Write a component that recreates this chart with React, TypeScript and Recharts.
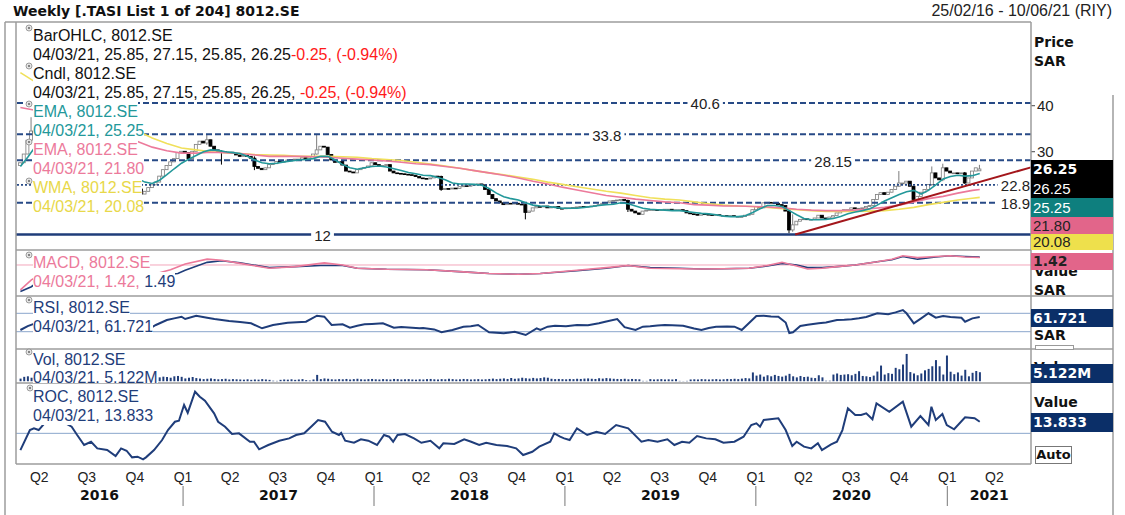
import React from 'react';
import { ComposedChart, Line, Bar, XAxis, YAxis, ReferenceLine } from 'recharts';

// ---------------- data ----------------
const START_DATE = '2016-02-25';
const LAST_DATE = '2021-03-04';
const END_DATE = '2021-06-10';
const LAST_DATE_LABEL = '04/03/21';
const TITLE = 'Weekly [.TASI List 1 of 204] 8012.SE';
const RANGE_LABEL = '25/02/16 - 10/06/21 (RIY)';
const SYMBOL = '8012.SE';

// weekly closes, week 0 = 25/02/16 ... week 262 = 04/03/21
const CLOSES = [
  27.6, 29.5, 32.5, 34.5, 33.6, 34.2, 33.0, 32.4, 33.1, 32.0,
  31.2, 31.8, 30.6, 29.8, 30.2, 28.8, 28.0, 27.2, 27.6, 26.4,
  25.8, 26.2, 25.2, 24.6, 24.9, 23.8, 23.2, 23.5, 22.6, 22.1,
  22.4, 21.6, 21.9, 20.8, 21.4, 22.2, 22.8, 23.4, 24.7, 26.1,
  27.0, 27.8, 28.5, 29.8, 30.1, 29.8, 28.5, 30.1, 31.6, 32.3,
  31.9, 32.6, 31.2, 30.4, 30.1, 30.0, 29.8, 29.9, 29.6, 29.3,
  29.0, 29.2, 29.0, 28.6, 26.8, 26.4, 26.1, 26.5, 27.2, 27.4,
  27.9, 27.7, 27.9, 28.2, 28.3, 28.4, 28.4, 28.7, 28.6, 28.9,
  29.5, 30.4, 31.2, 31.0, 29.4, 28.2, 27.7, 27.9, 27.1, 25.8,
  25.6, 25.4, 26.1, 26.4, 26.6, 26.9, 27.6, 27.2, 26.8, 27.0,
  27.2, 25.8, 25.4, 25.3, 25.2, 25.1, 25.0, 24.9, 24.6, 24.3,
  24.2, 24.1, 24.3, 24.7, 24.6, 21.8, 22.0, 21.9, 22.1, 22.0,
  22.4, 22.6, 22.5, 22.8, 22.9, 23.0, 22.8, 21.8, 20.7, 19.8,
  19.3, 18.9, 18.5, 18.8, 18.7, 18.8, 18.6, 18.5, 16.8, 17.1,
  17.8, 18.1, 18.0, 18.2, 17.8, 18.0, 18.1, 17.7, 17.6, 17.8,
  17.8, 17.9, 18.0, 18.1, 18.0, 18.1, 18.2, 18.3, 18.5, 18.8,
  19.0, 19.3, 19.4, 19.5, 19.6, 19.4, 17.5, 17.1, 16.7, 16.4,
  17.1, 17.3, 17.4, 17.4, 17.3, 17.4, 17.5, 17.5, 17.4, 17.4,
  17.4, 17.2, 16.7, 16.5, 16.4, 16.2, 16.5, 16.4, 16.3, 16.2,
  16.3, 16.1, 16.1, 16.0, 16.1, 15.9, 15.9, 15.9, 16.2, 16.4,
  17.4, 18.1, 17.8, 18.9, 19.0, 18.9, 18.8, 18.5, 18.3, 17.1,
  13.0, 14.1, 14.9, 15.3, 15.4, 15.3, 15.3, 15.6, 16.2, 15.6,
  15.5, 15.8, 16.1, 16.7, 17.2, 17.4, 17.4, 17.8, 17.6, 17.7,
  17.8, 18.1, 18.3, 19.6, 20.7, 21.1, 20.7, 21.2, 21.8, 22.5,
  23.2, 23.2, 23.6, 22.5, 19.6, 20.3, 21.2, 21.8, 22.9, 25.4,
  24.3, 23.9, 26.5, 25.8, 25.4, 25.4, 25.3, 25.4, 23.2, 24.3,
  25.8, 26.5, 26.25,
];
const FIRST_OPEN = 27.0;
const OPEN_OVERRIDES: [number, number][] = [[262, 25.85]];
// [week, high, low] for visible wicks
const WICKS: [number, number, number][] = [
  [3, 37.5, 33.0], [33, 22.0, 20.2], [51, 33.7, 31.5], [55, 30.3, 27.2], [64, 29.0, 26.0],
  [81, 33.7, 29.4], [115, 24.8, 21.5], [138, 18.6, 15.3], [166, 19.6, 16.9], [210, 17.2, 12.3],
  [211, 16.4, 12.6], [240, 25.8, 22.4], [249, 26.8, 22.6], [252, 27.4, 23.6], [258, 25.6, 23.0],
  [262, 27.15, 25.85],
];

const EMA_SHORT: [number, number][] = [
  [0, 26.8], [2, 28.8], [4, 31.0], [6, 32.3], [8, 32.6], [10, 32.2], [12, 31.5], [14, 30.6], [16, 29.6], [18, 28.6],
  [20, 27.6], [22, 26.8], [24, 26.0], [26, 25.3], [28, 24.8], [30, 24.5], [32, 24.2], [34, 23.4], [36, 23.1], [38, 23.8],
  [40, 25.0], [42, 26.3], [44, 27.5], [46, 28.4], [48, 29.2], [50, 30.0], [52, 30.4], [54, 30.3], [56, 30.0], [58, 29.8],
  [60, 29.6], [62, 29.0], [64, 28.2], [66, 27.6], [68, 27.4], [70, 27.5], [72, 27.8], [74, 28.0], [76, 28.2], [78, 28.3],
  [80, 28.5], [82, 29.0], [84, 29.0], [86, 28.2], [88, 27.2], [90, 26.5], [92, 26.2], [94, 26.5], [96, 26.8], [98, 26.9],
  [100, 26.7], [102, 26.3], [104, 25.9], [106, 25.5], [108, 25.2], [110, 24.9], [112, 24.8], [114, 24.4], [116, 23.9], [118, 23.2],
  [120, 23.0], [122, 23.0], [124, 22.9], [126, 22.7], [128, 22.0], [130, 21.0], [132, 20.2], [134, 19.8], [136, 19.5], [138, 18.9],
  [140, 18.4], [142, 18.2], [144, 18.1], [146, 17.9], [148, 17.7], [150, 17.7], [152, 17.7], [154, 17.9], [156, 18.1], [158, 18.3],
  [160, 18.5], [162, 18.6], [164, 18.9], [166, 18.7], [168, 18.2], [170, 17.7], [172, 17.5], [174, 17.4], [176, 17.3], [178, 17.2],
  [180, 17.2], [182, 17.0], [184, 16.8], [186, 16.6], [188, 16.5], [190, 16.3], [192, 16.0], [194, 15.9], [196, 15.9], [198, 16.1],
  [200, 16.8], [202, 17.6], [204, 18.3], [206, 18.3], [208, 18.1], [210, 17.2], [212, 16.3], [214, 15.5], [216, 15.2], [218, 15.2],
  [220, 15.3], [222, 15.5], [224, 15.9], [226, 16.5], [228, 16.9], [230, 17.2], [232, 17.6], [234, 18.4], [236, 19.3], [238, 20.0],
  [240, 20.7], [242, 21.3], [244, 21.6], [246, 20.8], [248, 21.6], [250, 22.8], [252, 24.1], [254, 24.6], [256, 24.9], [258, 24.7],
  [260, 24.8], [262, 25.25],
];
const EMA_LONG: [number, number][] = [
  [0, 39.6], [4, 39.0], [8, 38.0], [12, 37.0], [16, 35.9], [20, 34.9], [24, 33.9], [28, 33.0], [32, 32.2], [36, 31.0],
  [40, 30.2], [44, 29.7], [48, 29.7], [52, 29.9], [56, 29.8], [60, 29.6], [64, 29.3], [68, 29.0], [72, 29.0], [76, 29.0],
  [80, 28.9], [84, 28.8], [88, 28.6], [92, 28.4], [96, 28.2], [100, 28.0], [104, 27.7], [108, 27.4], [112, 27.2], [116, 26.8],
  [120, 26.4], [124, 25.9], [128, 25.4], [132, 24.9], [136, 24.3], [140, 23.6], [144, 23.0], [148, 22.3], [152, 21.7], [156, 21.1],
  [160, 20.5], [164, 20.1], [168, 19.7], [172, 19.4], [176, 19.1], [180, 18.9], [184, 18.5], [188, 18.4], [192, 18.2], [196, 18.2],
  [200, 18.1], [204, 18.0], [208, 17.8], [212, 17.5], [216, 17.3], [220, 17.2], [224, 17.2], [228, 17.3], [232, 17.6], [236, 17.9],
  [240, 18.4], [244, 19.1], [248, 19.8], [252, 20.3], [256, 21.0], [260, 21.6], [262, 21.8],
];
const WMA: [number, number][] = [
  [0, 47.2], [4, 45.2], [8, 43.8], [12, 42.3], [16, 40.8], [20, 39.2], [24, 37.6], [28, 36.0], [32, 34.5], [36, 33.0],
  [40, 31.8], [44, 30.8], [48, 30.4], [52, 30.0], [56, 29.8], [60, 29.6], [64, 29.4], [68, 29.3], [72, 29.2], [76, 29.0],
  [80, 29.0], [84, 29.0], [88, 28.9], [92, 28.8], [96, 28.5], [100, 28.3], [104, 28.1], [108, 27.7], [112, 27.3], [116, 26.9],
  [120, 26.4], [124, 25.9], [128, 25.4], [132, 25.0], [136, 24.5], [140, 24.0], [144, 23.4], [148, 22.9], [152, 22.4], [156, 21.9],
  [160, 21.4], [164, 21.0], [168, 20.5], [172, 20.0], [176, 19.7], [180, 19.5], [184, 19.1], [188, 18.7], [192, 18.4], [196, 18.2],
  [200, 18.1], [204, 17.9], [208, 17.6], [212, 17.4], [216, 17.2], [220, 17.0], [224, 17.0], [228, 17.0], [232, 17.1], [236, 17.2],
  [240, 17.5], [244, 17.9], [248, 18.5], [252, 19.0], [256, 19.5], [260, 19.9], [262, 20.08],
];

const LEVELS = [40.6, 33.8, 28.15, 22.8, 18.9, 12];
const TREND: [number, number][] = [[211.6, 12.0], [276, 26.6]];
const PRICE_TICKS = [30, 40];

const MACD_LINE: [number, number][] = [
  [0, -4.7], [3, -2.8], [8, -0.8], [16, -1.0], [24, -1.9], [32, -2.6], [41, -0.9], [45, 0.2], [51, 1.1], [55, 0.9],
  [60, 0.3], [68, -0.6], [75, -0.3], [83, 0.4], [88, 0.0], [92, -0.6], [100, -0.8], [111, -0.9], [121, -1.3], [128, -1.6],
  [136, -1.75], [142, -1.6], [152, -1.0], [160, -0.5], [166, -0.1], [172, -0.6], [180, -0.7], [186, -0.75], [192, -0.7], [199, -0.6],
  [204, -0.1], [208, 0.5], [212, -0.2], [215, -0.75], [219, -0.6], [223, -0.3], [228, 0.0], [234, 0.6], [238, 1.1], [241, 1.75],
  [245, 1.4], [250, 1.6], [254, 1.75], [258, 1.5], [262, 1.42],
];
const MACD_SIGNAL: [number, number][] = [
  [0, -5.0], [3, -4.1], [8, -1.5], [16, -1.2], [24, -1.8], [32, -2.4], [43, -1.6], [45, -1.0], [51, 0.5], [55, 0.8],
  [60, 0.4], [68, -0.5], [75, -0.3], [82, -0.1], [88, -0.1], [92, -0.6], [100, -0.8], [111, -0.9], [121, -1.3], [128, -1.6],
  [136, -1.75], [142, -1.6], [152, -1.1], [160, -0.6], [166, -0.1], [172, -0.5], [180, -0.6], [186, -0.75], [192, -0.7], [199, -0.6],
  [204, -0.2], [208, 0.3], [212, 0.0], [215, -0.5], [219, -0.5], [223, -0.3], [228, 0.0], [234, 0.6], [238, 1.0], [241, 1.6],
  [245, 1.1], [250, 1.5], [254, 1.75], [258, 1.6], [262, 1.49],
];

const RSI: [number, number][] = [
  [0, 33.7], [2, 42], [4, 48], [6, 50], [8, 52], [10, 46], [12, 44], [14, 42], [16, 38], [18, 40],
  [20, 36], [22, 38], [24, 35], [26, 36], [28, 33], [30, 34], [32, 32], [34, 36], [36, 40], [37, 44.6],
  [40, 55.4], [42, 59], [44, 62.6], [45, 57.6], [48, 64.8], [51, 60.4], [53, 57.6], [57, 53.3], [60, 51], [63, 48.3],
  [66, 37.4], [69, 44.6], [73, 49.6], [78, 51.7], [81, 64.8], [83, 62.6], [85, 44.6], [88, 46], [90, 38.7], [92, 43],
  [94, 46], [96, 47], [99, 48.3], [102, 38.7], [104, 40], [106, 39], [107, 38.5], [109, 37.4], [110, 38], [112, 36],
  [113, 35], [115, 28.7], [118, 33.7], [121, 40.9], [123, 42], [125, 44.6], [128, 28.7], [130, 27.5], [132, 26.5], [135, 30],
  [138, 22.8], [141, 37.4], [142, 33.7], [144, 41], [146, 43], [149, 42], [152, 44.6], [155, 44], [158, 48.3], [160, 52],
  [163, 57.6], [165, 40], [168, 33.7], [170, 41], [172, 42], [174, 43.5], [176, 44.6], [178, 44], [181, 43], [184, 37],
  [186, 33.7], [188, 38], [190, 40.9], [193, 41.5], [195, 40.9], [197, 33.7], [201, 64.1], [203, 64.8], [205, 63], [207, 62.6],
  [209, 50], [210, 27], [211, 28.7], [213, 42.4], [215, 45], [218, 48.3], [220, 50], [223, 55.4], [225, 56], [227, 57],
  [229, 59.1], [231, 62], [234, 70], [237, 67.8], [239, 72], [241, 77], [242, 70], [244, 48.3], [246, 59], [248, 70],
  [250, 60.4], [252, 64], [254, 62], [256, 61], [257, 60.4], [258, 51.7], [260, 59], [262, 61.721],
];

// weekly volume, millions
const VOLUME = [
  1.5, 2.5, 2.8, 2.0,
  1.8, 1.6, 1.4, 1.5, 1.3, 1.2, 1.4, 1.3, 1.1, 1.2, 1.0, 1.1, 1.2, 1.0, 0.9, 1.1, 1.0, 1.2, 1.1, 1.0,
  0.9, 1.0, 1.1, 1.2, 1.3, 1.5, 1.4, 1.6, 1.8, 1.5, 1.7, 2.0, 2.2, 2.4,
  2.2, 2.6, 2.4, 2.0, 2.8, 3.0, 2.5, 1.6, 2.0, 2.4, 1.8, 1.5, 1.2, 1.4, 1.6, 1.3, 1.1, 1.2, 1.4, 1.0, 1.2, 1.1,
  1.0, 0.9, 1.1, 0.8, 1.0, 0.9, 1.2, 1.0, 0.8, 0.3, 0.2, 0.8, 1.0, 0.9, 1.1, 0.8, 1.0, 1.2, 0.6, 0.4, 1.0,
  3.6,
  1.2, 1.6, 1.4, 1.1, 1.0, 1.2, 1.1, 1.3, 1.0, 1.2, 1.4, 1.1, 1.0, 1.2, 1.3, 1.1, 1.0, 1.2, 1.1, 1.0,
  1.3, 1.2, 1.0, 1.1, 1.2, 1.0, 0.9, 1.1, 1.0, 1.2, 1.3, 1.1, 1.0, 1.2, 1.1, 1.4, 1.2, 1.0, 1.1, 1.3,
  1.2, 1.0, 1.1, 1.2, 1.0, 1.1, 1.3, 1.5, 1.2, 1.4, 1.6, 1.3, 1.8, 1.4, 1.6, 2.0, 1.7, 1.5, 1.9, 1.6,
  1.8, 2.2, 2.0, 1.4, 1.2, 1.3, 1.2, 1.1, 1.3, 1.2, 1.4, 1.3, 1.5, 1.6, 1.4, 1.3, 1.7, 1.5, 1.8, 1.6,
  1.4, 1.3, 1.2, 1.4, 1.1, 1.3, 1.2, 1.1, 0.2, 0.2, 1.2, 1.0, 1.1, 1.2, 1.0, 1.1, 1.0, 1.2, 0.2, 0.1,
  0.2, 1.0, 1.1, 1.0, 1.2, 1.1, 1.0, 1.1, 1.2, 1.0, 1.1, 1.3, 1.2, 1.4, 1.2, 1.5, 1.8, 1.6,
  5.0, 3.2, 3.8, 2.6, 3.4, 2.8, 3.6, 3.0, 2.6, 3.2, 4.2, 2.8, 2.2, 3.0, 2.4, 2.6, 2.0, 1.8, 3.4, 2.2,
  0.3, 0.3, 3.8, 4.4, 3.6,
  3.8, 4.0, 3.4, 4.2, 5.7, 3.0, 2.8, 2.4, 3.2, 5.5, 8.9, 3.8, 4.6, 4.2, 7.6, 6.8, 9.5, 15.5, 5.2, 4.4,
  3.4, 4.4, 6.2, 7.0, 8.5, 12.0, 8.5, 3.8, 14.6, 5.4, 4.0, 5.0, 3.2, 6.5, 2.8, 4.8, 5.8, 5.122,
];

const ROC: [number, number][] = [
  [0, -20], [2.6, 3.9], [3.7, 6], [5, 3.9], [6.7, 12.6], [8.5, 18], [10.5, 17], [12, 12.6], [14, 7.9], [15.5, -2],
  [17.4, -13.9], [19.3, -10], [21, -17.9], [23.7, -19.9], [26, -27], [27.5, -17.9], [29, -20.7], [30.5, -28.6], [32, -27.8], [33.5, -31],
  [34.3, -28.6], [36.5, -19.9], [38.7, -8], [40.3, 3.9], [42.2, 13.8], [43.3, 15], [44.7, 33.7], [45.7, 24.5], [47.7, 49.5], [49, 43.6],
  [50.4, 38.8], [52.9, 23.8], [54, 13.8], [55.9, 7.9], [57.8, -0.8], [59.7, 0], [62.7, -10], [63.8, -10], [65.2, -19], [67.7, -13.9],
  [70.7, -8.8], [73.4, -6], [75.3, -2], [77.5, 0], [79.4, 7.9], [81.3, 15.8], [83.2, 13.8], [85.1, 1.9], [87, -2], [87.6, 0.5],
  [88.7, -8.8], [91.1, -11.2], [93, -7.1], [95, -8.8], [97.4, -13.9], [99.3, -2], [100.7, -4], [101.8, -10], [103, -2], [105, -0.8],
  [107.5, -6], [109.5, -11.2], [112, -8.8], [114.4, -17.9], [115.5, -11.9], [118.5, -12.7], [121.2, -7.1], [123.1, -10], [125.3, -13.9], [127.2, -11.2],
  [130, -13.9], [132.9, -15.1], [135.4, -17.9], [137.3, -25.8], [139.8, -21.9], [141.7, -15.9], [144.7, -10], [145.8, 0], [147.4, -4], [148.5, -6],
  [150, -8], [152, 6], [154.8, -2], [157.3, 1.9], [159.7, -0.8], [162.7, 9.9], [166, 6], [169.6, -10], [171.5, -8], [174, -10],
  [176.7, -7.1], [178.6, -13.9], [180.7, -10], [182.7, -11.2], [184.8, -3.2], [187.3, -6], [189.8, -7.1], [192, -11.2], [195, -10], [197.5, -4],
  [199.6, 9.9], [201, 11.9], [202, 7.9], [203, 15.8], [207, 17.9], [209, 3.9], [210.8, -15.1], [212, -10], [214, -15.9], [216, -17.9],
  [217.8, -11.9], [218.9, -19.9], [221.4, -13.1], [223, -10], [224.5, 3.9], [226, 29.8], [228, 21.8], [229.6, 21.8], [231, 23.8], [232.7, 16.7],
  [233.8, 35.7], [237.3, 25.7], [241, 37.6], [243.3, 7.9], [245.8, 20.6], [248, 9.9], [248.8, 31.7], [250, 15.8], [251.8, 23], [253, 9.9],
  [255, 4.8], [258, 19], [260.6, 17.9], [262, 13.833],
];

const QUARTER_DATES = [
  '2016-04-01', '2016-07-01', '2016-10-01', '2017-01-01', '2017-04-01', '2017-07-01', '2017-10-01',
  '2018-01-01', '2018-04-01', '2018-07-01', '2018-10-01', '2019-01-01', '2019-04-01', '2019-07-01', '2019-10-01',
  '2020-01-01', '2020-04-01', '2020-07-01', '2020-10-01', '2021-01-01', '2021-04-01',
];
const QUARTER_LABELS = [
  'Q2', 'Q3', 'Q4', 'Q1', 'Q2', 'Q3', 'Q4', 'Q1', 'Q2', 'Q3', 'Q4', 'Q1', 'Q2', 'Q3', 'Q4',
  'Q1', 'Q2', 'Q3', 'Q4', 'Q1', 'Q2',
];
const YEAR_LABELS = ['2016', '2017', '2018', '2019', '2020', '2021'];

// ---------------- layout / style ----------------
const W = 1125;
const H = 515;
const PLOT_L = 16;
const PLOT_R = 1031;
const COL_R = 1113;
const FONT = '"Liberation Sans", Arial, sans-serif';
const LEGEND_FONT = '"Liberation Sans", Arial, sans-serif';
const LEGEND_SIZE = 16;
const BOLD = '"DejaVu Sans", Verdana, sans-serif';
const NAVY = '#1f3d7a';
const LEVEL_NAVY = '#274a86';
const TEAL = '#23989a';
const PINK = '#ec7a9b';
const YELLOW = '#f0e05a';
const RED = '#ff1a1a';
const GRID = '#9c9c9c';
const GUIDE = '#8aa6cc';

const DAY = 86400000;
const weekOf = (d: string) => (Date.parse(d + 'T00:00:00Z') - Date.parse(START_DATE + 'T00:00:00Z')) / (7 * DAY);
const X_MIN = -1.2;
const X_MAX = weekOf(END_DATE);
const X_DOMAIN: [number, number] = [X_MIN, X_MAX];

const PRICE_DOMAIN: [number, number] = [8.64, 58.2];
const MACD_DOMAIN: [number, number] = [-5.85, 2.83];
const RSI_DOMAIN: [number, number] = [-7.6, 107.6];
const VOL_DOMAIN: [number, number] = [-1.0, 18.3];
const ROC_DOMAIN: [number, number] = [-36.5, 59.9];

const LEVEL_LOOK = [
  { dash: '6 3', width: 2, frac: 0.679, anchor: 'middle' },
  { dash: '6 3', width: 2, frac: 0.582, anchor: 'middle' },
  { dash: '6 3', width: 2, frac: 0.805, anchor: 'middle' },
  { dash: '2 2', width: 1.6, frac: 1, anchor: 'end' },
  { dash: '6 3', width: 2, frac: 1, anchor: 'end' },
  { dash: undefined, width: 2.5, frac: 0.302, anchor: 'middle' },
];

// ---------------- derived tables ----------------
const candles = CLOSES.map((close, w) => {
  let open = w === 0 ? FIRST_OPEN : CLOSES[w - 1];
  const ov = OPEN_OVERRIDES.find((o) => o[0] === w);
  if (ov) open = ov[1];
  let high = Math.max(open, close);
  let low = Math.min(open, close);
  const wk = WICKS.find((k) => k[0] === w);
  if (wk) {
    high = Math.max(high, wk[1]);
    low = Math.min(low, wk[2]);
  }
  return { w, open, high, low, close };
});

function mergeSeries(base: any[], series: Record<string, [number, number][]>) {
  const map = new Map<number, any>();
  base.forEach((r) => map.set(r.w, { ...r }));
  Object.entries(series).forEach(([key, pts]) => {
    pts.forEach(([w, v]) => {
      if (!map.has(w)) map.set(w, { w });
      map.get(w)[key] = v;
    });
  });
  return Array.from(map.values()).sort((a, b) => a.w - b.w);
}

const mainRows = mergeSeries(candles, { emaS: EMA_SHORT, emaL: EMA_LONG, wma: WMA });
const macdRows = mergeSeries([], { macd: MACD_LINE, sig: MACD_SIGNAL });
const rsiRows = mergeSeries([], { rsi: RSI });
const volRows = VOLUME.map((v, w) => ({ w, vol: v }));
const rocRows = mergeSeries([], { roc: ROC });

const QUARTER_WEEKS = QUARTER_DATES.map(weekOf);
const YEAR_MIDS = YEAR_LABELS.map((y) => {
  const a = Math.max(weekOf(`${y}-01-01`), X_MIN);
  const b = Math.min(weekOf(`${Number(y) + 1}-01-01`), X_MAX);
  return (a + b) / 2;
});

const last = candles[candles.length - 1];
const prevClose = CLOSES[CLOSES.length - 2];
const change = last.close - prevClose;
const changePct = (change / prevClose) * 100;
const lastOf = (pts: [number, number][]) => pts[pts.length - 1][1];
const f2 = (v: number) => v.toFixed(2);
const ohlcText = `${LAST_DATE_LABEL}, ${f2(last.open)}, ${f2(last.high)}, ${f2(last.low)}, ${f2(last.close)}`;
const changeText = `${f2(change)}, (${f2(changePct)}%)`;

// ---------------- shapes ----------------
const Candle = (props: any) => {
  const { x, y, width, height, payload } = props;
  if (!payload || x == null || y == null || !isFinite(y)) return null;
  const h = isFinite(height) ? height : 0;
  const top = Math.min(y, y + h);
  const bot = Math.max(y, y + h);
  const { open, close, high, low } = payload;
  const span = high - low;
  const k = span > 0 ? (bot - top) / span : 0;
  const py = (v: number) => top + (high - v) * k;
  const cx = x + width / 2;
  const up = close >= open;
  const b1 = py(Math.max(open, close));
  const b2 = py(Math.min(open, close));
  const col = up ? '#7c7c7c' : '#000';
  return (
    <g>
      <line x1={cx} x2={cx} y1={top} y2={bot} stroke={col} strokeWidth={1} />
      <rect x={cx - 1.5} y={b1} width={3} height={Math.max(b2 - b1, 0.8)} fill={up ? '#fff' : '#000'} stroke={col} strokeWidth={0.8} />
    </g>
  );
};

const textWidth15 = (s: string) => s.split('').reduce((a, c) => a + (c === '.' ? 4.2 : 8.4), 0);

const LevelLabel = (props: any) => {
  const { viewBox, text, frac, anchor } = props;
  if (!viewBox) return null;
  const { x, y, width } = viewBox;
  const tw = textWidth15(text) + 6;
  const tx = anchor === 'end' ? x + width - 1 : x + width * frac;
  const left = anchor === 'end' ? tx - tw + 3 : tx - tw / 2;
  return (
    <g>
      <rect x={left} y={y - 9} width={tw} height={18} fill="#fff" />
      <text x={tx} y={y + 1} textAnchor={anchor} dominantBaseline="central" fontFamily={FONT} fontSize={15} fill="#222">
        {text}
      </text>
    </g>
  );
};

const QuarterTick = (props: any) => {
  const { x, y, payload } = props;
  let idx = 0;
  let best = Infinity;
  QUARTER_WEEKS.forEach((q, i) => {
    const d = Math.abs(q - payload.value);
    if (d < best) { best = d; idx = i; }
  });
  const label = QUARTER_LABELS[idx];
  return (
    <g>
      <text x={x} y={y + 13} textAnchor="middle" dominantBaseline="central" fontFamily={FONT} fontSize={14} fill="#222">
        {label}
      </text>
      {label === 'Q1' && <line x1={x} x2={x} y1={y + 22} y2={y + 42} stroke="#777" strokeWidth={1} />}
    </g>
  );
};

const YearTick = (props: any) => {
  const { x, y, payload } = props;
  let idx = 0;
  let best = Infinity;
  YEAR_MIDS.forEach((q, i) => {
    const d = Math.abs(q - payload.value);
    if (d < best) { best = d; idx = i; }
  });
  return (
    <text x={x} y={y + 9} textAnchor="middle" dominantBaseline="central" fontFamily={BOLD} fontWeight="bold" fontSize={14} fill="#111">
      {YEAR_LABELS[idx]}
    </text>
  );
};

// ---------------- overlay helpers ----------------
type Seg = { t: string; c: string };
const LegendLine = ({ top, segs }: { top: number; segs: Seg[] }) => (
  <div style={{ position: 'absolute', left: 33, top, height: 19, lineHeight: '19px', whiteSpace: 'nowrap', fontFamily: LEGEND_FONT, fontSize: LEGEND_SIZE }}>
    <span style={{ display: 'inline-block', background: '#fff', height: 19 }}>
      {segs.map((s, i) => (
        <span key={i} style={{ color: s.c }}>{s.t}</span>
      ))}
    </span>
  </div>
);

const ValueBox = ({ top, h, bg, color, bold, text }: any) => (
  <div
    style={{
      position: 'absolute', left: PLOT_R, top, width: COL_R - PLOT_R, height: h, background: bg, color,
      fontFamily: bold ? BOLD : FONT, fontWeight: bold ? 'bold' : 'normal', fontSize: bold ? 14 : 15, lineHeight: `${h}px`,
      paddingLeft: 2, boxSizing: 'border-box', whiteSpace: 'nowrap',
    }}
  >
    {text}
  </div>
);

const BoldText = ({ top, text, left = 1034 }: any) => (
  <div style={{ position: 'absolute', left, top, fontFamily: BOLD, fontWeight: 'bold', fontSize: 14, lineHeight: '18px', color: '#111', whiteSpace: 'nowrap' }}>
    {text}
  </div>
);

const hiddenX = <XAxis type="number" dataKey="w" domain={X_DOMAIN} hide allowDataOverflow />;
const panelMargin = { top: 0, bottom: 0, left: PLOT_L, right: W - PLOT_R };

export default function App() {
  const icons = [[29, 28], [29, 66], [29, 104], [29, 142], [29, 181], [29, 255], [29, 300], [29, 352], [30, 388]];
  return (
    <div style={{ position: 'absolute', left: 0, top: 0, width: W, height: H, background: '#fff', overflow: 'hidden', fontFamily: FONT }}>
      {/* title bar */}
      <div style={{ position: 'absolute', left: 13, top: 2, fontFamily: BOLD, fontWeight: 'bold', fontSize: 14, lineHeight: '18px', color: '#111', whiteSpace: 'nowrap' }}>
        {TITLE}
      </div>
      <div style={{ position: 'absolute', right: W - 1112, top: 2, fontFamily: FONT, fontSize: 16, lineHeight: '18px', color: '#222', whiteSpace: 'nowrap' }}>
        {RANGE_LABEL}
      </div>

      {/* price panel */}
      <div style={{ position: 'absolute', left: 0, top: 22 }}>
        <ComposedChart width={W} height={228} data={mainRows} margin={{ ...panelMargin, right: W - PLOT_R - 40 }}>
          {hiddenX}
          <YAxis
            orientation="right" width={40} domain={PRICE_DOMAIN} ticks={PRICE_TICKS} allowDataOverflow
            axisLine={false} tickLine={{ stroke: '#444' }} tickSize={4} tickMargin={2}
            tick={{ fontSize: 15, fill: '#222', fontFamily: FONT }}
          />
          {LEVELS.map((v, i) => (
            <ReferenceLine
              key={v} y={v} stroke={i === 5 ? NAVY : LEVEL_NAVY} strokeWidth={LEVEL_LOOK[i].width}
              strokeDasharray={LEVEL_LOOK[i].dash}
              label={(p: any) => <LevelLabel {...p} text={String(v)} frac={LEVEL_LOOK[i].frac} anchor={LEVEL_LOOK[i].anchor} />}
            />
          ))}
          <Bar dataKey={(r: any) => [r.low, r.high]} shape={(p: any) => <Candle {...p} />} barSize={3} isAnimationActive={false} />
          <Line dataKey="wma" stroke={YELLOW} strokeWidth={1.6} dot={false} activeDot={false} connectNulls isAnimationActive={false} />
          <Line dataKey="emaL" stroke={PINK} strokeWidth={1.6} dot={false} activeDot={false} connectNulls isAnimationActive={false} />
          <Line dataKey="emaS" stroke={TEAL} strokeWidth={1.6} dot={false} activeDot={false} connectNulls isAnimationActive={false} />
          <ReferenceLine
            segment={[{ x: TREND[0][0], y: TREND[0][1] }, { x: TREND[1][0], y: TREND[1][1] }]}
            stroke="#a3161b" strokeWidth={2} ifOverflow="visible"
          />
        </ComposedChart>
      </div>

      {/* MACD panel */}
      <div style={{ position: 'absolute', left: 0, top: 250 }}>
        <ComposedChart width={W} height={46} data={macdRows} margin={panelMargin}>
          {hiddenX}
          <YAxis hide domain={MACD_DOMAIN} allowDataOverflow />
          <ReferenceLine y={0} stroke="#f3a6bb" strokeWidth={1} />
          <Line dataKey="sig" stroke={NAVY} strokeWidth={1.6} dot={false} activeDot={false} connectNulls isAnimationActive={false} />
          <Line dataKey="macd" stroke={PINK} strokeWidth={1.6} dot={false} activeDot={false} connectNulls isAnimationActive={false} />
        </ComposedChart>
      </div>

      {/* RSI panel */}
      <div style={{ position: 'absolute', left: 0, top: 296 }}>
        <ComposedChart width={W} height={53} data={rsiRows} margin={panelMargin}>
          {hiddenX}
          <YAxis hide domain={RSI_DOMAIN} allowDataOverflow />
          <ReferenceLine y={70} stroke={GUIDE} strokeWidth={1} />
          <ReferenceLine y={30} stroke={GUIDE} strokeWidth={1} />
          <Line dataKey="rsi" stroke={NAVY} strokeWidth={2} dot={false} activeDot={false} connectNulls isAnimationActive={false} />
        </ComposedChart>
      </div>

      {/* Volume panel */}
      <div style={{ position: 'absolute', left: 0, top: 349 }}>
        <ComposedChart width={W} height={34} data={volRows} margin={panelMargin}>
          {hiddenX}
          <YAxis hide domain={VOL_DOMAIN} allowDataOverflow />
          <Bar dataKey="vol" fill={NAVY} barSize={2} isAnimationActive={false} />
        </ComposedChart>
      </div>

      {/* ROC panel + time axis */}
      <div style={{ position: 'absolute', left: 0, top: 383 }}>
        <ComposedChart width={W} height={132} data={rocRows} margin={panelMargin}>
          <XAxis
            type="number" dataKey="w" domain={X_DOMAIN} allowDataOverflow ticks={QUARTER_WEEKS} interval={0}
            axisLine={false} tickLine={false} tickSize={0} tickMargin={0} height={22}
            tick={(p: any) => <QuarterTick {...p} />}
          />
          <XAxis
            xAxisId="yr" type="number" dataKey="w" domain={X_DOMAIN} allowDataOverflow ticks={YEAR_MIDS} interval={0}
            axisLine={false} tickLine={false} tickSize={0} tickMargin={0} height={29}
            tick={(p: any) => <YearTick {...p} />}
          />
          <YAxis hide domain={ROC_DOMAIN} allowDataOverflow />
          <ReferenceLine y={0} stroke={GUIDE} strokeWidth={1} />
          <Line dataKey="roc" stroke={NAVY} strokeWidth={2} dot={false} activeDot={false} connectNulls isAnimationActive={false} />
        </ComposedChart>
      </div>

      {/* frame */}
      <svg width={W} height={H} style={{ position: 'absolute', left: 0, top: 0, pointerEvents: 'none' }}>
        <g stroke={GRID} strokeWidth={1.5} fill="none">
          <line x1={5} x2={PLOT_R} y1={22} y2={22} />
          <line x1={5} x2={5} y1={22} y2={H} />
          <line x1={PLOT_L} x2={PLOT_L} y1={22} y2={464} />
          <line x1={PLOT_R} x2={PLOT_R} y1={22} y2={464} />
          <line x1={PLOT_L} x2={PLOT_R} y1={464} y2={464} />
          <line x1={PLOT_L} x2={PLOT_R} y1={250} y2={250} />
          <line x1={PLOT_L} x2={COL_R} y1={296} y2={296} />
          <line x1={PLOT_L} x2={COL_R} y1={349} y2={349} />
          <line x1={PLOT_L} x2={PLOT_R} y1={383} y2={383} />
          <line x1={COL_R} x2={COL_R} y1={95} y2={H} />
        </g>
        {icons.map(([x, y], i) => (
          <g key={i}>
            <circle cx={x} cy={y} r={3} fill="#e4e4e4" stroke="#8a8a8a" strokeWidth={0.8} />
            <circle cx={x} cy={y} r={0.9} fill="#555" />
          </g>
        ))}
      </svg>

      {/* price legends */}
      <LegendLine top={26} segs={[{ t: `BarOHLC, ${SYMBOL}`, c: '#111' }]} />
      <LegendLine top={45} segs={[{ t: ohlcText, c: '#111' }, { t: changeText, c: RED }]} />
      <LegendLine top={64} segs={[{ t: `Cndl, ${SYMBOL}`, c: '#111' }]} />
      <LegendLine top={83} segs={[{ t: `${ohlcText}, `, c: '#111' }, { t: changeText, c: RED }]} />
      <LegendLine top={102} segs={[{ t: `EMA, ${SYMBOL}`, c: TEAL }]} />
      <LegendLine top={121} segs={[{ t: `${LAST_DATE_LABEL}, ${f2(lastOf(EMA_SHORT))}`, c: TEAL }]} />
      <LegendLine top={140} segs={[{ t: `EMA, ${SYMBOL}`, c: PINK }]} />
      <LegendLine top={159} segs={[{ t: `${LAST_DATE_LABEL}, ${f2(lastOf(EMA_LONG))}`, c: PINK }]} />
      <LegendLine top={178} segs={[{ t: `WMA, ${SYMBOL}`, c: '#e8d84a' }]} />
      <LegendLine top={197} segs={[{ t: `${LAST_DATE_LABEL}, ${f2(lastOf(WMA))}`, c: '#e8d84a' }]} />

      {/* lower panel legends */}
      <LegendLine top={253} segs={[{ t: `MACD, ${SYMBOL}`, c: PINK }]} />
      <LegendLine top={272} segs={[{ t: `${LAST_DATE_LABEL}, ${f2(lastOf(MACD_LINE))}, `, c: PINK }, { t: f2(lastOf(MACD_SIGNAL)), c: NAVY }]} />
      <LegendLine top={298} segs={[{ t: `RSI, ${SYMBOL}`, c: NAVY }]} />
      <LegendLine top={317} segs={[{ t: `${LAST_DATE_LABEL}, ${lastOf(RSI).toFixed(3)}`, c: NAVY }]} />
      <div style={{ position: 'absolute', left: 0, top: 349, width: 400, height: 34, overflow: 'hidden' }}>
        <div style={{ position: 'absolute', left: 0, top: -349 }}>
          <LegendLine top={350} segs={[{ t: `Vol, ${SYMBOL}`, c: NAVY }]} />
          <LegendLine top={368} segs={[{ t: `${LAST_DATE_LABEL}, ${VOLUME[VOLUME.length - 1].toFixed(3)}M`, c: NAVY }]} />
        </div>
      </div>
      <LegendLine top={387} segs={[{ t: `ROC, ${SYMBOL}`, c: NAVY }]} />
      <LegendLine top={406} segs={[{ t: `${LAST_DATE_LABEL}, ${lastOf(ROC).toFixed(3)}`, c: NAVY }]} />

      {/* right column */}
      <BoldText top={33} text="Price" />
      <BoldText top={52} text="SAR" />
      <BoldText top={262} text="Value" />
      <BoldText top={281} text="SAR" />
      <ValueBox top={160} h={19} bg="#000" color="#fff" bold text={f2(last.close)} />
      <ValueBox top={179} h={19} bg="#000" color="#fff" text={f2(last.close)} />
      <ValueBox top={198} h={19} bg="#0e7f7e" color="#fff" text={f2(lastOf(EMA_SHORT))} />
      <ValueBox top={217} h={17} bg="#e2658a" color="#222" text={f2(lastOf(EMA_LONG))} />
      <ValueBox top={234} h={16} bg="#eee04c" color="#222" text={f2(lastOf(WMA))} />
      <ValueBox top={253} h={17} bg="#e2658a" color="#222" bold text={f2(lastOf(MACD_LINE))} />
      <ValueBox top={309} h={18} bg="#0b2f68" color="#fff" bold text={lastOf(RSI).toFixed(3)} />
      <BoldText top={326} text="SAR" />
      <div style={{ position: 'absolute', left: 1035, top: 345, width: 37, height: 3, border: '1px solid #999', background: '#fff' }} />
      <BoldText top={358} text="Value" />
      <ValueBox top={364} h={19} bg="#0b2f68" color="#fff" bold text={`${VOLUME[VOLUME.length - 1].toFixed(3)}M`} />
      <BoldText top={393} text="Value" />
      <ValueBox top={413} h={19} bg="#0b2f68" color="#fff" bold text={lastOf(ROC).toFixed(3)} />
      <div
        style={{
          position: 'absolute', left: 1035, top: 446, width: 37, height: 18, border: '1px solid #777', boxSizing: 'border-box',
          fontFamily: BOLD, fontWeight: 'bold', fontSize: 13, lineHeight: '16px', color: '#111', textAlign: 'center',
        }}
      >
        Auto
      </div>
    </div>
  );
}
